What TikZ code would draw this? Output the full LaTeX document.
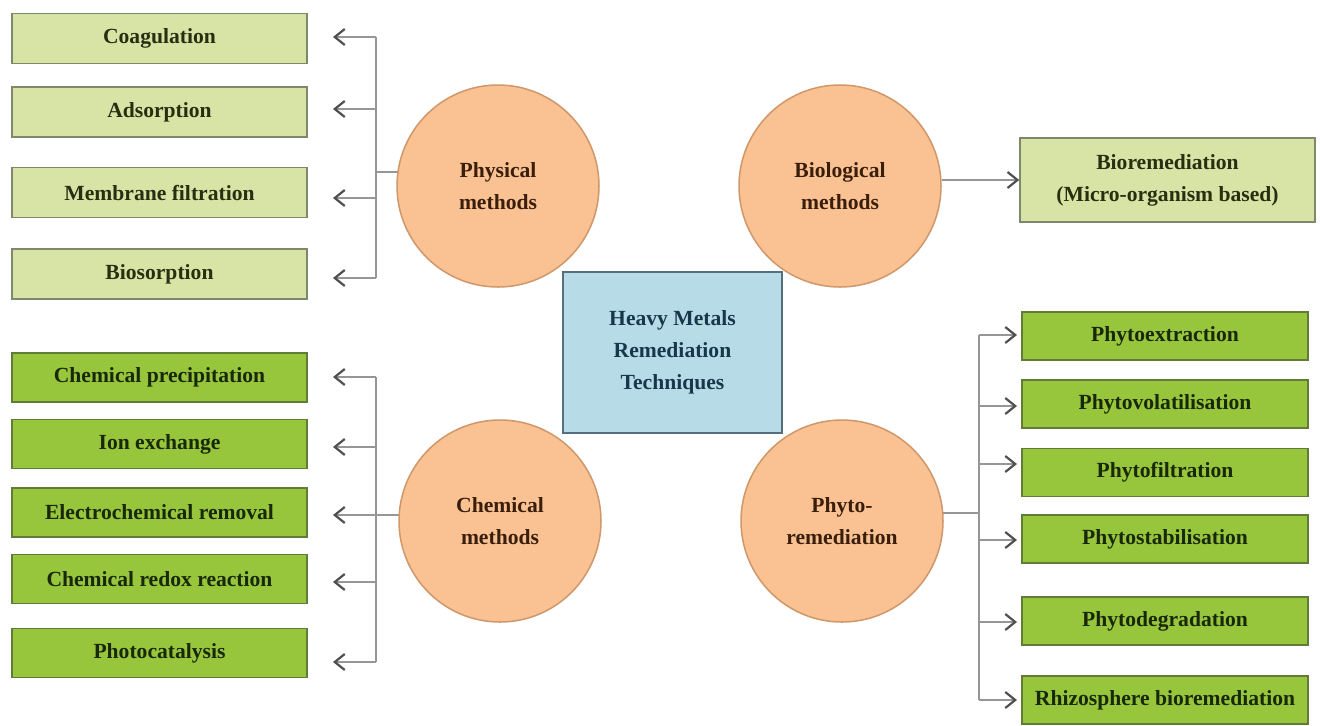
\documentclass[tikz,border=0pt]{standalone}
\usepackage{fontspec}
\setmainfont{Liberation Serif}
\usetikzlibrary{arrows.meta}
\pgfdeclarelayer{background}
\pgfsetlayers{background,main}
\definecolor{circfill}{RGB}{250,194,146}
\definecolor{circdraw}{RGB}{208,152,106}
\definecolor{circtext}{RGB}{58,30,12}
\definecolor{hubfill}{RGB}{183,220,231}
\definecolor{hubdraw}{RGB}{84,112,128}
\definecolor{hubtext}{RGB}{22,56,74}
\definecolor{pfill}{RGB}{216,228,166}
\definecolor{pdraw}{RGB}{128,136,108}
\definecolor{ptext}{RGB}{40,46,16}
\definecolor{gfill}{RGB}{151,198,60}
\definecolor{gdraw}{RGB}{96,124,56}
\definecolor{gtext}{RGB}{24,40,8}
\definecolor{linegray}{RGB}{150,150,150}
\definecolor{arrgray}{RGB}{80,80,80}
\begin{document}
\begin{tikzpicture}[x=0.5pt,y=-0.5pt,
  txt/.style={font=\fontsize{10.8}{16}\selectfont\bfseries, align=center, inner sep=0pt},
  pbox/.style={txt, draw=pdraw, fill=pfill, line width=0.75pt, minimum width=147.5pt, minimum height=25pt, text=ptext},
  gbox/.style={txt, draw=gdraw, fill=gfill, line width=0.75pt, minimum width=147.5pt, minimum height=24.5pt, text=gtext},
  rbox/.style={gbox, minimum width=143pt, minimum height=24pt},
  circ/.style={txt, circle, draw=circdraw, fill=circfill, line width=0.75pt, minimum size=101pt, text=circtext},
  hubbox/.style={txt, draw=hubdraw, fill=hubfill, line width=0.8pt, minimum width=109.5pt, minimum height=80.5pt, text=hubtext},
  conn/.style={draw=linegray, line width=0.7pt},
  arr/.style={conn, -{Straight Barb[length=5pt,width=8pt,line width=1.1pt,color=arrgray]}}
]
\useasboundingbox (0,0) rectangle (1320,725);
\begin{pgfonlayer}{background}
\fill[white] (0,0) rectangle (1320,725);
\end{pgfonlayer}

% circles
\node[circ] (phys) at (498,186) {Physical\\methods};
\node[circ] (bio) at (840,186) {Biological\\methods};
\node[circ] (chem) at (500,521) {Chemical\\methods};
\node[circ] (phyto) at (842,521) {Phyto-\\remediation};

% hub
\node[hubbox] (hub) at (672.5,352.5) {Heavy Metals\\Remediation\\Techniques};

% physical boxes
\node[pbox] (coag) at (159.5,38.5) {Coagulation};
\node[pbox] (adso) at (159.5,112) {Adsorption};
\node[pbox] (memb) at (159.5,192.5) {Membrane filtration};
\node[pbox] (bios) at (159.5,274) {Biosorption};

% bioremediation
\node[pbox, minimum height=42pt] (biorem) at (1167.5,180) {Bioremediation\\(Micro-organism based)};

% chemical boxes
\node[gbox] (cprec) at (159.5,377.5) {Chemical precipitation};
\node[gbox] (ionx) at (159.5,444) {Ion exchange};
\node[gbox] (elec) at (159.5,512.5) {Electrochemical removal};
\node[gbox] (redox) at (159.5,579) {Chemical redox reaction};
\node[gbox] (photo) at (159.5,653) {Photocatalysis};

% phyto boxes
\node[rbox] (pext) at (1165,336) {Phytoextraction};
\node[rbox] (pvol) at (1165,404) {Phytovolatilisation};
\node[rbox] (pfil) at (1165,472.5) {Phytofiltration};
\node[rbox] (psta) at (1165,539) {Phytostabilisation};
\node[rbox] (pdeg) at (1165,621) {Phytodegradation};
\node[rbox] (rhiz) at (1165,700) {Rhizosphere bioremediation};

% physical connectors
\coordinate (pj) at (376,172);
\coordinate (pa1) at (376,37);  \coordinate (pt1) at (333,37);
\coordinate (pa2) at (376,109); \coordinate (pt2) at (333,109);
\coordinate (pa3) at (376,198); \coordinate (pt3) at (333,198);
\coordinate (pa4) at (376,278); \coordinate (pt4) at (333,278);
\begin{pgfonlayer}{background}
\draw[conn] (pj -| phys.center) -- (pj);
\end{pgfonlayer}
\draw[conn] (pa1) -- (pa4);
\foreach \i in {1,...,4} \draw[arr] (pa\i) -- (pt\i);

% chemical connectors
\coordinate (cj) at (376,515);
\coordinate (ca1) at (376,377); \coordinate (ct1) at (333,377);
\coordinate (ca2) at (376,447); \coordinate (ct2) at (333,447);
\coordinate (ca3) at (376,515); \coordinate (ct3) at (333,515);
\coordinate (ca4) at (376,582); \coordinate (ct4) at (333,582);
\coordinate (ca5) at (376,662); \coordinate (ct5) at (333,662);
\begin{pgfonlayer}{background}
\draw[conn] (cj -| chem.center) -- (cj);
\end{pgfonlayer}
\draw[conn] (ca1) -- (ca5);
\foreach \i in {1,...,5} \draw[arr] (ca\i) -- (ct\i);

% phyto connectors
\coordinate (rj) at (979,513);
\coordinate (ra1) at (979,335); \coordinate (rt1) at (1017,335);
\coordinate (ra2) at (979,406); \coordinate (rt2) at (1017,406);
\coordinate (ra3) at (979,464); \coordinate (rt3) at (1017,464);
\coordinate (ra4) at (979,540); \coordinate (rt4) at (1017,540);
\coordinate (ra5) at (979,622); \coordinate (rt5) at (1017,622);
\coordinate (ra6) at (979,700); \coordinate (rt6) at (1017,700);
\begin{pgfonlayer}{background}
\draw[conn] (rj -| phyto.center) -- (rj);
\end{pgfonlayer}
\draw[conn] (ra1) -- (ra6);
\foreach \i in {1,...,6} \draw[arr] (ra\i) -- (rt\i);

% biological connector
\draw[arr] (biorem.west -| bio.east) -- (biorem.west);
\end{tikzpicture}
\end{document}
